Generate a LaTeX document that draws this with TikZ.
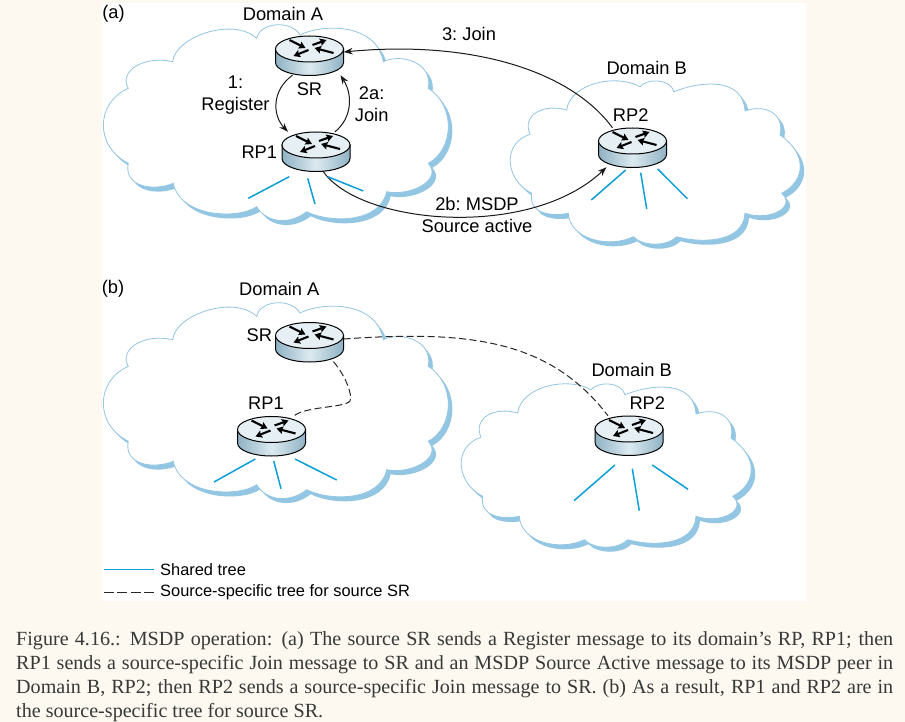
\documentclass[tikz,border=0pt]{standalone}
\usepackage{fontspec}
\usepackage{tikz}
\usetikzlibrary{arrows.meta}
\setmainfont{Liberation Sans}
\newfontfamily\captionfont{Liberation Serif}
\definecolor{pagecream}{HTML}{FDF9F0}
\definecolor{cloudblue}{HTML}{93C6E3}
\definecolor{treeblue}{HTML}{0A9FD6}
\definecolor{routerside}{HTML}{8FB2C4}
\definecolor{routerlight}{HTML}{DCEAF0}
\newcommand{\cloudApath}{(128.3,88.3)
 .. controls (118.3,71.7) and (143.3,55) .. (172.7,61.7)
 .. controls (175,36.7) and (233.3,16.7) .. (256.7,38.3)
 .. controls (260,21.7) and (291.7,20) .. (300,35)
 .. controls (323.3,23.3) and (376.7,23.3) .. (383.3,61.7)
 .. controls (400,53.3) and (433.3,61.7) .. (428.3,88.3)
 .. controls (456.7,106.7) and (453.3,150) .. (428.3,163.3)
 .. controls (443.3,180) and (410,196.7) .. (386.7,191.7)
 .. controls (380,223.3) and (330,223.3) .. (306.7,211.7)
 .. controls (290,225) and (266.7,223.3) .. (256.7,206.7)
 .. controls (236.7,220) and (180,216.7) .. (173.3,183.3)
 .. controls (153.3,191.7) and (123.3,186.7) .. (128.3,163.3)
 .. controls (95,146.7) and (95,103.3) .. (128.3,88.3) -- cycle}
\newcommand{\cloudBpath}{(530,134.3)
 .. controls (521.7,115) and (543.3,103.3) .. (566.7,110)
 .. controls (570,83.3) and (616.7,73.3) .. (640,86.7)
 .. controls (646.7,78.3) and (670,78.3) .. (674,91.7)
 .. controls (703.3,80) and (743.3,78.3) .. (745,111)
 .. controls (766.7,103.3) and (785,115) .. (780,135)
 .. controls (806.7,153.3) and (806.7,180) .. (781.7,193.3)
 .. controls (796.7,206.7) and (770,221.7) .. (745,213.3)
 .. controls (743.3,243.3) and (700,243.3) .. (676.7,236.7)
 .. controls (666.7,246.7) and (643.3,246.7) .. (633.3,236.7)
 .. controls (610,248.3) and (570,240) .. (568.3,213.3)
 .. controls (550,216.7) and (528.3,213.3) .. (531.7,193.3)
 .. controls (505,180) and (501.7,143.3) .. (530,134.3) -- cycle}
\begin{document}
\begin{tikzpicture}[x=1pt,y=-1pt,
 label/.style={font=\frenchspacing\fontsize{18.3}{22}\selectfont,align=center,inner sep=0pt},
 legendtext/.style={font=\fontsize{16.4}{20}\selectfont,anchor=west,inner sep=0pt},
 cloudshadow/.style={fill=cloudblue},
 cloudface/.style={fill=white,draw=cloudblue,line width=0.8pt},
 routerbox/.style={minimum width=68pt,minimum height=39pt,inner sep=0pt},
 routerarrow/.style={line width=2.1pt,-{Stealth[length=6.5pt,width=7.5pt,inset=1pt]}},
 sharedtree/.style={treeblue,line width=1.5pt},
 sourcetree/.style={black!85,line width=1pt,dash pattern=on 7pt off 3.5pt},
 message/.style={black!90,line width=1pt,-{Stealth[length=9pt,width=6.5pt]}}]
\useasboundingbox (0,0) rectangle (905,722);
\fill[pagecream] (0,0) rectangle (905,722);
\fill[white] (102,3) rectangle (806,601);
% clouds
\foreach \sx/\sy in {0/0,0/278} {
 \fill[cloudshadow,shift={(\sx+4,\sy+4.5)}] \cloudApath;
 \filldraw[cloudface,shift={(\sx,\sy)}] \cloudApath;
}
\foreach \sx/\sy in {0/0,-49/303} {
 \fill[cloudshadow,shift={(\sx+4,\sy+4.5)}] \cloudBpath;
 \filldraw[cloudface,shift={(\sx,\sy)}] \cloudBpath;
}
% routers
\foreach \rt/\x/\y in {srA/309.5/49,rpOneA/316/145,rpTwoA/632.5/141,srB/309.5/335.5,rpOneB/271.5/429.5,rpTwoB/629/429} {
 \node[routerbox] (\rt) at (\x,\y+6.5) {};
}
% messages, (a)
\draw[message] ([xshift=-17pt]srA.south) .. controls (272,90) and (272,115) .. ([xshift=-28pt]rpOneA.north);
\draw[message] ([xshift=19pt]rpOneA.north) .. controls (352,118) and (353,95) .. ([xshift=31pt]srA.south);
\draw[message] ([xshift=-20pt]rpTwoA.north) .. controls (570,70) and (470,40) .. ([yshift=3.5pt]srA.east);
\draw[message] ([xshift=7pt]rpOneA.south) .. controls (360,225) and (530,240) .. ([xshift=-26pt]rpTwoA.south);
% source tree, (b)
\draw[sourcetree] ([xshift=24pt]srB.south) .. controls (345,375) and (353,395) .. (350,401) .. controls (345,408) and (305,406) .. ([xshift=22pt]rpOneB.north);
\draw[sourcetree] ([yshift=3pt]srB.east) .. controls (470,330) and (550,340) .. ([xshift=-21pt]rpTwoB.north);
\foreach \rt/\x/\y in {srA/309.5/49,rpOneA/316/145,rpTwoA/632.5/141,srB/309.5/335.5,rpOneB/271.5/429.5,rpTwoB/629/429} {
 \begin{scope}[shift={(\x,\y)}]
 \shade[left color=routerside,right color=routerside,middle color=routerlight,draw=black,line width=1pt]
  (-34,0) -- (-34,13.5) arc[start angle=180,end angle=360,x radius=34pt,y radius=13pt] -- (34,0) -- cycle;
 \filldraw[fill=routerlight!70!white,draw=black,line width=1pt] (0,0) ellipse[x radius=34pt,y radius=13pt];
 \draw[routerarrow] (-20,-9) -- (-4,-1);
 \draw[routerarrow] (3,-4) -- (17,-9);
 \draw[routerarrow] (-1,1) -- (-16,7);
 \draw[routerarrow] (24,4) -- (5,-1);
 \end{scope}
}
% shared trees
\foreach \rt/\n/\ax/\ay/\bx/\by in {
 rpOneA/1/289.3/176.7/248.3/198.3, rpOneA/2/307.7/178.3/315/204, rpOneA/3/327.7/176.7/363.3/191,
 rpTwoA/1/625.7/170/591.3/200, rpTwoA/2/640.7/172.7/646.7/209, rpTwoA/3/657.7/169/687.3/198.7,
 rpOneB/1/255.3/459/214/482, rpOneB/2/273.7/461/281/488.7, rpOneB/3/295/459/336.7/480,
 rpTwoB/1/615/465/574/500.7, rpTwoB/2/632.3/468.7/639.3/510.7, rpTwoB/3/652.3/465/688/489.3} {
 \coordinate (\rt s\n) at (\ax,\ay);
 \coordinate (\rt e\n) at (\bx,\by);
 \draw[sharedtree] (\rt s\n) -- (\rt e\n);
}
% labels, (a)
\node[label] (partA) at (113.5,14) {(a)};
\node[label] (domainAa) at (283,14) {Domain A};
\node[label] (domainBa) at (646.7,67.7) {Domain B};
\node[label] (joinThree) at (469,34) {3: Join};
\node[label] (register) at (235.5,95) {1:\\Register};
\node[label] (srLabelA) at (309.5,89) {SR};
\node[label] (joinTwo) at (371.7,104) {2a:\\Join};
\node[label] (rpOneLabelA) at (259.3,152.7) {RP1};
\node[label] (rpTwoLabelA) at (630.7,115) {RP2};
\node[label] (msdp) at (477,214.5) {2b: MSDP\\Source active};
% labels, (b)
\node[label] (partB) at (113,289) {(b)};
\node[label] (domainAb) at (279.3,289) {Domain A};
\node[label] (domainBb) at (631.7,370) {Domain B};
\node[label] (srLabelB) at (259.3,335) {SR};
\node[label] (rpOneLabelB) at (266,403.3) {RP1};
\node[label] (rpTwoLabelB) at (647.3,402.7) {RP2};
% legend
\coordinate (sharedStart) at (104,569.3);
\coordinate (sharedEnd) at (154,569.3);
\coordinate (sourceStart) at (104,592.3);
\coordinate (sourceEnd) at (154,592.3);
\draw[sharedtree] (sharedStart) -- (sharedEnd);
\draw[sourcetree,dash pattern=on 10pt off 3.3pt] (sourceStart) -- (sourceEnd);
\node[legendtext] (sharedLabel) at (160,570) {Shared tree};
\node[legendtext] (sourceLabel) at (160,592.5) {Source-specific tree for source SR};
% caption
\node[anchor=north west,inner sep=0pt,text width=877pt,align=justify,text=black!78,font=\captionfont\fontsize{20.1}{24.2}\selectfont] (caption) at (16,631)
 {Figure 4.16.: MSDP operation: (a) The source SR sends a Register message to its domain’s RP, RP1; then\linebreak
 RP1 sends a source-specific Join message to SR and an MSDP Source Active message to its MSDP peer in\linebreak
 Domain B, RP2; then RP2 sends a source-specific Join message to SR. (b) As a result, RP1 and RP2 are in\linebreak
 the source-specific tree for source SR.};
\end{tikzpicture}
\end{document}
